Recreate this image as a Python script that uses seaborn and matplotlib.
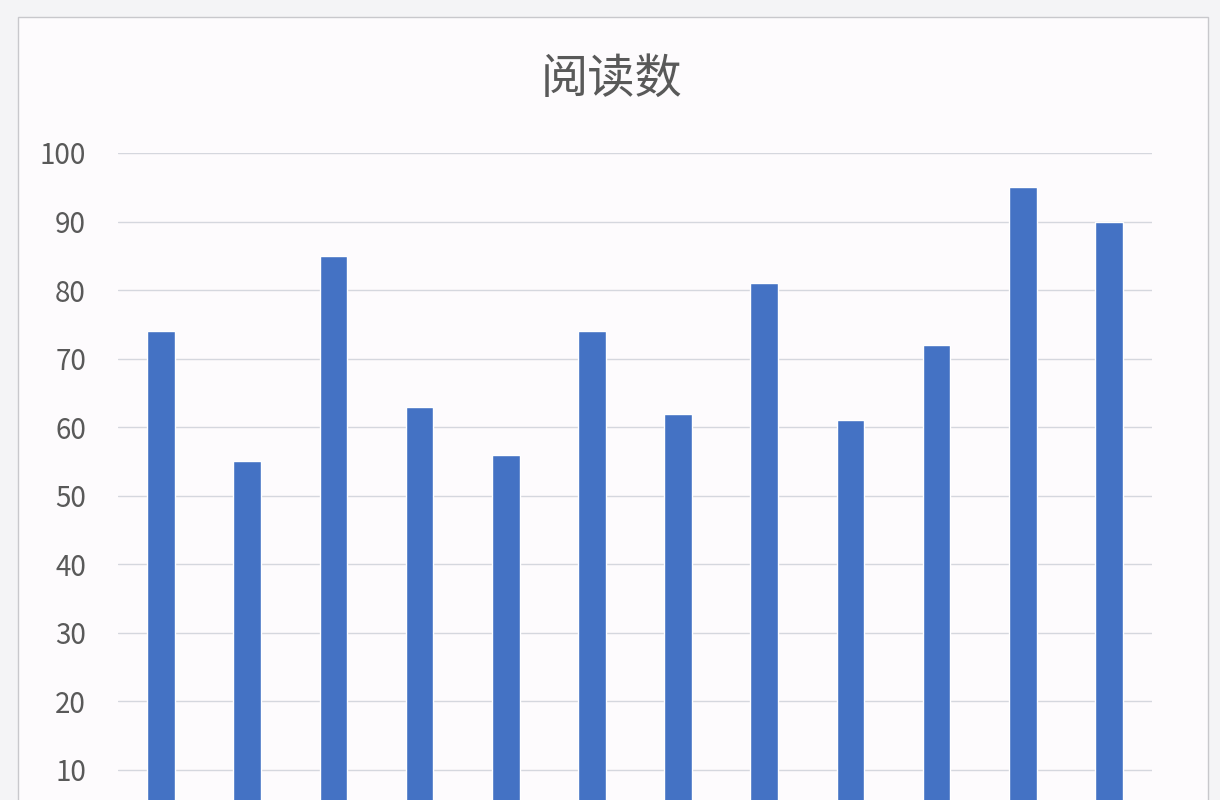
import matplotlib
matplotlib.use("Agg")
import matplotlib.pyplot as plt
import seaborn as sns
import pandas as pd
from matplotlib.patches import Rectangle

# data (x labels are cropped out of the picture)
categories = [str(i) for i in range(1, 13)]
reads = [74, 55, 85, 63, 56, 74, 62, 81, 61, 72, 95, 90]
yticks = [10, 20, 30, 40, 50, 60, 70, 80, 90, 100]

df = pd.DataFrame({"cat": categories, "reads": reads})

sns.set_style("white")
plt.rcParams['font.family'] = ['Noto Sans CJK SC', 'DejaVu Sans']

fig = plt.figure(figsize=(12.2, 8), dpi=100)
fig.patch.set_facecolor("#f4f4f6")
# chart area with thin border
fig.patches.append(Rectangle((18 / 1220, -0.01), 1190 / 1220, 1 - 17 / 800 + 0.01,
                             transform=fig.transFigure, facecolor="#fdfbfd",
                             edgecolor="#c8c8cc", linewidth=1.0, zorder=-5))

ax = fig.add_axes([118 / 1220, 0, (1152 - 118) / 1220, 1 - 153 / 800])
ax.set_zorder(2)
ax.set_facecolor("none")
sns.barplot(data=df, x="cat", y="reads", color="#4472C4", saturation=1,
            width=0.32, ax=ax, zorder=3)

ax.set_xlim(-0.5, len(categories) - 0.5)
ax.set_ylim(5.62, 100)
ax.set_yticks(yticks)
ax.yaxis.grid(True, color="#d5d7de", linewidth=1.0, zorder=0)
ax.set_axisbelow(True)
for s in ax.spines.values():
    s.set_visible(False)
ax.tick_params(axis="y", length=0, pad=23, labelsize=20, labelcolor="#595959")
ax.tick_params(axis="x", length=0, labelbottom=False)
ax.set_xlabel("")
ax.set_ylabel("")

fig.text(612 / 1220, 1 - 80 / 800, "阅读数", ha="center", va="center",
         fontsize=34, color="#595959")

fig.savefig("out.png", dpi=100, facecolor=fig.get_facecolor())
